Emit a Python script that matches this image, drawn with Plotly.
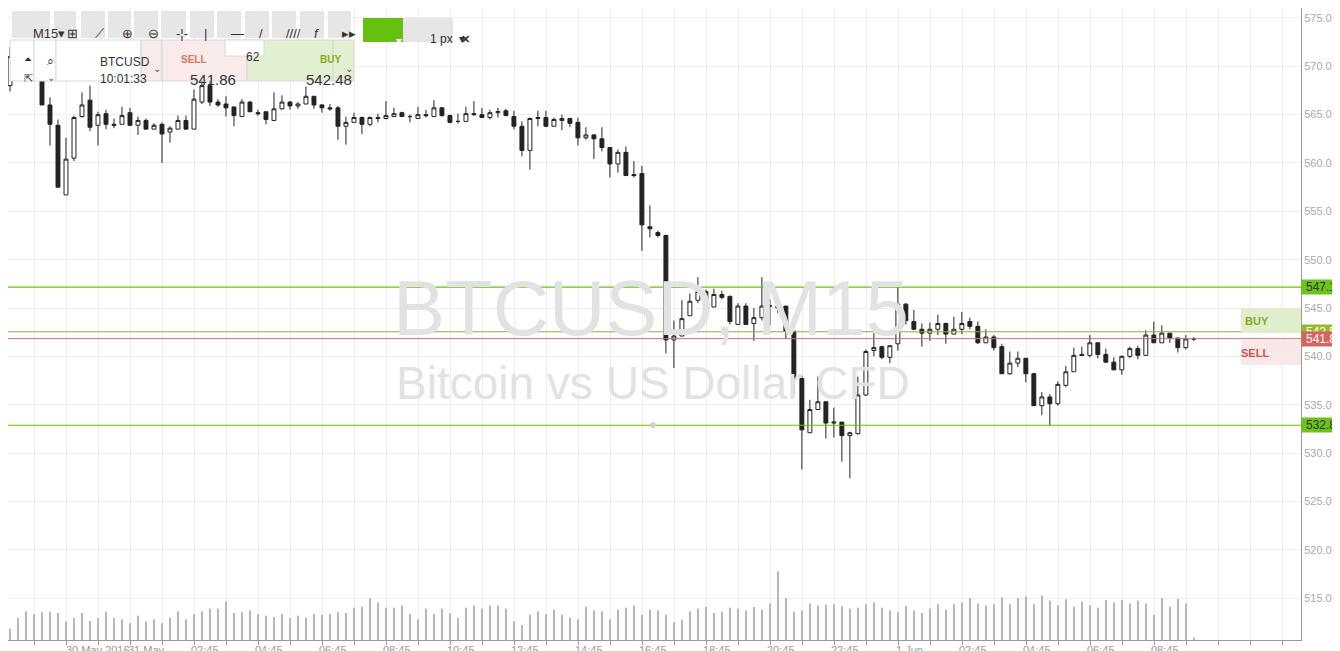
import plotly.graph_objects as go

# 15 min candles, BTCUSD 30 May - 1 Jun 2016
opens = [568.0, 571.0, 571.5, 570.8, 569.5, 566.0, 563.9, 556.7, 560.5, 564.8,
         566.5, 563.9, 565.1, 564.0, 564.0, 565.2, 563.9, 564.4, 563.5, 564.0,
         563.2, 563.5, 564.4, 563.5, 566.3, 568.0, 566.3, 566.1, 565.8, 564.8,
         566.3, 565.2, 565.3, 564.4, 565.6, 566.3, 565.9, 566.1, 566.9, 566.0,
         565.7, 565.7, 563.8, 564.2, 564.7, 564.0, 564.7, 564.6, 564.8, 565.2,
         564.8, 564.6, 565.0, 564.8, 565.7, 564.9, 564.3, 564.3, 565.1, 565.0,
         564.7, 565.2, 565.4, 564.8, 563.8, 561.3, 564.6, 564.7, 563.8, 564.4,
         564.6, 564.2, 562.6, 562.9, 562.5, 561.6, 559.9, 561.1, 558.8, 558.9,
         553.4, 552.8, 552.5, 541.7, 542.1, 544.2, 545.8, 546.7, 545.1, 546.4,
         546.2, 543.3, 545.2, 543.4, 544.0, 545.2, 545.2, 545.2, 542.6, 537.7,
         532.1, 534.5, 535.3, 533.1, 533.2, 531.8, 532.0, 536.0, 540.6, 541.0,
         539.9, 541.3, 545.4, 543.6, 542.8, 542.4, 542.8, 543.4, 542.3, 542.8,
         543.6, 543.1, 541.4, 542.0, 541.0, 538.2, 539.3, 539.8, 538.2, 534.9,
         535.8, 535.1, 537.0, 538.4, 540.2, 540.1, 541.4, 540.2, 539.4, 538.6,
         540.0, 540.8, 540.1, 542.2, 541.4, 542.4, 541.9, 540.9, 541.8]
highs = [572.0, 572.5, 572.3, 571.8, 570.0, 566.8, 564.5, 562.6, 564.9, 567.3,
         568.0, 565.3, 565.5, 564.6, 565.8, 565.7, 564.8, 564.6, 564.1, 564.2,
         563.8, 564.9, 564.9, 567.6, 568.6, 568.6, 566.6, 566.9, 565.8, 566.6,
         566.4, 565.5, 565.3, 567.3, 567.0, 566.4, 566.3, 567.9, 566.9, 566.1,
         566.1, 565.9, 564.8, 565.2, 564.8, 564.8, 565.1, 566.4, 565.7, 565.3,
         565.0, 565.8, 565.5, 566.5, 565.8, 565.0, 565.1, 565.8, 566.4, 565.7,
         565.5, 565.7, 565.6, 565.4, 564.3, 564.7, 565.4, 565.4, 564.7, 565.0,
         564.7, 564.7, 563.7, 563.0, 563.7, 561.6, 561.4, 561.7, 560.2, 559.7,
         555.6, 553.0, 552.6, 543.7, 545.8, 546.5, 548.2, 546.9, 547.0, 546.8,
         546.3, 545.5, 545.5, 545.0, 548.2, 545.9, 546.0, 545.2, 542.6, 538.0,
         535.5, 537.9, 535.3, 534.7, 533.2, 532.2, 537.9, 540.7, 542.4, 541.1,
         541.1, 547.2, 545.5, 544.8, 543.4, 543.5, 544.3, 543.5, 544.1, 544.6,
         544.0, 543.6, 542.8, 542.2, 541.3, 540.5, 540.5, 539.8, 538.3, 536.3,
         536.1, 537.4, 539.0, 540.9, 541.0, 542.2, 541.4, 540.8, 539.9, 540.1,
         541.0, 541.1, 542.7, 543.6, 543.2, 542.4, 541.9, 542.2, 542.0]
lows = [567.4, 570.5, 570.3, 569.2, 566.0, 561.8, 557.5, 556.7, 560.2, 564.7,
        563.3, 561.8, 563.5, 563.6, 564.0, 563.8, 562.9, 563.5, 563.5, 560.0,
        562.1, 563.5, 563.5, 563.5, 566.1, 565.9, 565.8, 564.8, 563.8, 564.8,
        565.3, 564.9, 564.0, 564.4, 565.5, 565.5, 565.6, 566.1, 565.6, 565.2,
        565.4, 562.4, 561.9, 564.2, 563.0, 563.8, 564.2, 564.5, 564.8, 564.8,
        564.2, 564.6, 564.7, 564.8, 564.8, 564.1, 564.1, 564.3, 564.9, 564.7,
        564.5, 564.7, 564.9, 563.5, 560.7, 559.3, 563.8, 563.7, 563.8, 563.4,
        563.7, 561.8, 562.4, 560.4, 561.2, 558.5, 559.0, 558.7, 558.5, 550.9,
        552.3, 552.3, 540.3, 538.8, 542.1, 544.2, 545.5, 545.0, 545.1, 545.9,
        543.3, 543.3, 543.3, 541.6, 543.7, 543.2, 544.5, 541.8, 536.1, 528.3,
        532.1, 534.5, 531.5, 531.6, 529.1, 527.4, 531.9, 535.9, 540.0, 539.7,
        539.3, 540.6, 543.3, 542.7, 541.0, 541.6, 542.2, 541.3, 542.3, 542.3,
        542.8, 541.3, 541.4, 540.6, 538.2, 538.1, 538.9, 537.3, 534.9, 533.9,
        532.8, 534.9, 536.8, 538.4, 540.1, 539.9, 539.8, 539.3, 538.6, 538.1,
        539.8, 539.7, 540.1, 541.4, 541.4, 541.4, 540.4, 540.7, 541.6]
closes = [571.0, 571.5, 570.8, 569.5, 566.0, 564.0, 557.5, 560.4, 564.7, 566.0,
          563.7, 565.0, 564.0, 563.9, 564.9, 563.9, 564.4, 563.5, 563.9, 563.0,
          563.6, 564.4, 563.5, 566.6, 568.0, 566.3, 566.0, 565.7, 564.9, 566.3,
          565.3, 565.1, 564.5, 565.6, 566.3, 565.9, 566.1, 566.9, 566.0, 565.7,
          565.6, 563.8, 564.2, 564.7, 564.0, 564.7, 564.6, 564.9, 565.1, 564.8,
          564.8, 565.0, 564.9, 565.7, 564.9, 564.2, 564.3, 565.1, 565.0, 564.7,
          565.2, 565.3, 564.9, 563.8, 561.3, 564.6, 564.7, 563.8, 564.5, 564.6,
          564.1, 562.6, 562.9, 562.5, 561.6, 559.9, 561.1, 558.7, 558.7, 553.6,
          553.2, 552.5, 541.7, 542.1, 543.9, 545.7, 546.7, 545.1, 546.4, 546.1,
          543.6, 545.2, 543.3, 544.0, 545.2, 545.2, 545.0, 542.6, 537.6, 532.4,
          534.5, 535.3, 533.1, 533.2, 531.8, 532.1, 536.0, 540.5, 540.9, 539.9,
          541.1, 545.4, 543.7, 542.8, 542.4, 542.8, 543.4, 542.3, 542.8, 543.4,
          543.1, 541.4, 542.0, 540.9, 538.2, 539.3, 539.8, 538.2, 534.9, 535.8,
          535.1, 537.1, 538.4, 540.1, 540.1, 541.4, 540.2, 539.4, 538.6, 540.0,
          540.8, 540.1, 542.2, 541.4, 542.4, 541.9, 540.9, 541.8, 541.8]
volumes = [33, 63, 83, 75, 80, 81, 78, 53, 63, 78,
           55, 63, 81, 63, 60, 48, 70, 53, 60, 48,
           65, 83, 60, 75, 83, 90, 90, 111, 78, 80,
           86, 75, 70, 66, 75, 63, 70, 65, 75, 73,
           75, 80, 78, 93, 96, 120, 108, 93, 93, 100,
           75, 60, 90, 75, 90, 78, 63, 93, 100, 90,
           100, 100, 90, 55, 43, 73, 83, 75, 88, 73,
           65, 60, 96, 86, 83, 60, 88, 93, 100, 73,
           88, 86, 73, 51, 58, 83, 91, 96, 78, 81,
           93, 90, 85, 95, 88, 105, 198, 121, 81, 85,
           105, 100, 102, 103, 97, 90, 93, 103, 109, 93,
           86, 81, 98, 85, 78, 91, 103, 88, 103, 108,
           121, 105, 100, 103, 123, 103, 121, 125, 103, 128,
           113, 101, 117, 96, 110, 101, 93, 115, 108, 115,
           105, 113, 105, 73, 121, 96, 118, 105, 8]

# axis labels: (candle position, text)
tick_pos = [11, 17.1, 24.4, 32.4, 40.4, 48.4, 56.4, 64.4, 72.4, 80.4, 88.4, 96.4,
            104.4, 112.4, 120.4, 128.4, 136.4, 144.4]
tick_text = ["30 May 2016", "31 May", "02:45", "04:45", "06:45", "08:45", "10:45",
             "12:45", "14:45", "16:45", "18:45", "20:45", "22:45", "1 Jun",
             "02:45", "04:45", "06:45", "08:45"]
price_ticks = list(range(515, 580, 5))

PW, PH = 1293, 632
FONT = "Liberation Sans"


def px(x):
    return x / PW


def py(y):
    return 1 - y / PH


idx = list(range(len(opens)))

fig = go.Figure()
fig.add_trace(go.Bar(x=idx, y=volumes, width=0.13, marker_color="#b8b8b8",
                     marker_line_width=0, yaxis="y2", hoverinfo="skip"))
fig.add_trace(go.Candlestick(
    x=idx, open=opens, high=highs, low=lows, close=closes, whiskerwidth=0,
    increasing=dict(line=dict(color="#222222", width=1), fillcolor="#ffffff"),
    decreasing=dict(line=dict(color="#222222", width=1), fillcolor="#222222")))

shapes = []
# horizontal levels
for lvl, col, w in [(547.16, "#66c400", 1.2), (532.87, "#66c400", 1.2),
                    (542.54, "#9aaa3a", 1), (541.83, "#d07070", 1)]:
    shapes.append(dict(type="line", xref="paper", x0=0, x1=1, yref="y", y0=lvl, y1=lvl,
                       line=dict(color=col, width=w)))

ann = []
# watermark
ann.append(dict(text="BTCUSD, M15", x=px(643), y=py(300), xref="paper", yref="paper",
                showarrow=False, font=dict(size=78, color="#e2e2e2", family=FONT)))
ann.append(dict(text="Bitcoin vs US Dollar CFD", x=px(645), y=py(375), xref="paper",
                yref="paper", showarrow=False, font=dict(size=46, color="#e2e2e2", family=FONT)))
shapes.append(dict(type="circle", xref="paper", yref="paper", x0=px(642), x1=px(648),
                   y0=py(420), y1=py(414), fillcolor="#d0d0d0", line=dict(width=0)))

# x labels
for p, t in zip(tick_pos, tick_text):
    ann.append(dict(text=t, x=p, xref="x", y=0, yref="paper", yanchor="top", yshift=-2,
                    showarrow=False, font=dict(size=11, color="#999999", family=FONT)))

# right price tags
for lvl, txt, bg, fc in [(547.16, "547.16", "#6cc417", "#333333"),
                         (542.54, "542.54", "#9ab82a", "#ffffff"),
                         (541.83, "541.83", "#d9625d", "#ffffff"),
                         (532.87, "532.87", "#6cc417", "#333333")]:
    ann.append(dict(text=txt, x=1, xref="paper", xanchor="left", y=lvl, yref="y",
                    showarrow=False, bgcolor=bg, width=45, height=14, borderpad=0,
                    font=dict(size=12, color=fc, family=FONT)))

# BUY / SELL boxes
shapes.append(dict(type="rect", xref="paper", yref="paper", x0=px(1233), x1=1,
                   y0=py(325), y1=py(300), fillcolor="#dfeecb", line=dict(width=0)))
shapes.append(dict(type="rect", xref="paper", yref="paper", x0=px(1233), x1=1,
                   y0=py(357), y1=py(332), fillcolor="#f8e9e8", line=dict(width=0)))
ann.append(dict(text="<b>BUY</b>", x=px(1263), y=py(313), xref="paper", yref="paper",
                showarrow=False, font=dict(size=11, color="#8aa81f", family=FONT)))
ann.append(dict(text="<b>SELL</b>", x=px(1263), y=py(345), xref="paper", yref="paper",
                showarrow=False, font=dict(size=11, color="#d05050", family=FONT)))

# toolbar
buttons = [(4, 42, "M15▾"), (46, 68, "⊞"), (73, 97, "⟋"), (100, 123, "⊕"), (126, 150, "⊖"),
           (153, 178, "-¦-"), (182, 206, "|"), (209, 233, "—"), (237, 261, "/"),
           (264, 288, "////"), (292, 316, "<i>f</i>"), (320, 343, "▸▸")]
for x0, x1, t in buttons:
    shapes.append(dict(type="rect", xref="paper", yref="paper", x0=px(x0), x1=px(x1),
                       y0=py(30), y1=py(3), fillcolor="#e6e6e6", line=dict(width=0)))
    ann.append(dict(text=t, x=px((x0 + x1) / 2), y=py(16), xref="paper", yref="paper",
                    showarrow=False, font=dict(size=13, color="#333333", family=FONT)))
shapes.append(dict(type="rect", xref="paper", yref="paper", x0=px(355), x1=px(395),
                   y0=py(34), y1=py(10), fillcolor="#66c010", line=dict(width=0)))
shapes.append(dict(type="rect", xref="paper", yref="paper", x0=px(395), x1=px(445),
                   y0=py(34), y1=py(10), fillcolor="#e6e6e6", line=dict(width=0)))
ann.append(dict(text="▾", x=px(386), y=py(22), xref="paper", yref="paper", showarrow=False,
                font=dict(size=12, color="#ffffff")))
ann.append(dict(text="1 px  ▾", x=px(420), y=py(22), xref="paper", yref="paper",
                showarrow=False, font=dict(size=12, color="#333333", family=FONT)))
ann.append(dict(text="<b>✕</b>", x=px(457), y=py(21), xref="paper", yref="paper",
                showarrow=False, font=dict(size=11, color="#333333")))

# trade panel
panel = [(2, 26, "#ffffff"), (26, 48, "#ffffff"), (48, 133, "#ffffff"), (133, 154, "#f8ebe9"),
         (154, 239, "#f8ebe9"), (239, 325, "#e2efd0"), (325, 346, "#e2efd0")]
for x0, x1, c in panel:
    shapes.append(dict(type="rect", xref="paper", yref="paper", x0=px(x0), x1=px(x1),
                       y0=py(73), y1=py(32), fillcolor=c, line=dict(color="#d8d8d8", width=1)))
shapes.append(dict(type="rect", xref="paper", yref="paper", x0=px(217), x1=px(256),
                   y0=py(48), y1=py(32), fillcolor="#ffffff", line=dict(color="#d8d8d8", width=1)))
panel_text = [(14, 44, "⏶", 10, "#333333"), (14, 62, "⇱", 11, "#333333"),
              (37, 44, "⌕", 12, "#333333"), (37, 62, "⌄", 10, "#555555"),
              (90, 45, "BTCUSD", 12, "#333333"), (90, 62, "10:01:33", 12, "#333333"),
              (143, 53, "⌄", 10, "#555555"), (335, 53, "⌄", 10, "#555555"),
              (171, 44, "<b>SELL</b>", 10, "#d8765f"), (180, 61, "541.86", 15, "#333333"),
              (236, 40, "62", 12, "#333333"),
              (310, 44, "<b>BUY</b>", 10, "#8aa81f"), (296, 61, "542.48", 15, "#333333")]
for x, y, t, s, c in panel_text:
    ann.append(dict(text=t, x=px(x), y=py(y), xref="paper", yref="paper", showarrow=False,
                    font=dict(size=s, color=c, family=FONT)))

fig.update_layout(
    width=1340, height=651, margin=dict(l=0, r=47, t=0, b=19, autoexpand=False),
    paper_bgcolor="#ffffff", plot_bgcolor="#ffffff", showlegend=False,
    xaxis=dict(range=[-0.25, 161.4], rangeslider=dict(visible=False), showticklabels=False,
               tick0=3.06, dtick=4, showgrid=True, gridcolor="#eeeeee", zeroline=False,
               ticks="outside", ticklen=4, tickcolor="#999999", automargin=False,
               showline=True, linecolor="#999999"),
    yaxis=dict(range=[510.66, 576.03], side="right", tickvals=price_ticks,
               tickformat=".2f", gridcolor="#eeeeee", zeroline=False, showline=True,
               automargin=False, linecolor="#999999", ticks="",
               tickfont=dict(size=11, color="#aaaaaa", family=FONT)),
    yaxis2=dict(range=[0, 1820], overlaying="y", visible=False),
    shapes=shapes, annotations=ann)

fig.write_html("out.html")
